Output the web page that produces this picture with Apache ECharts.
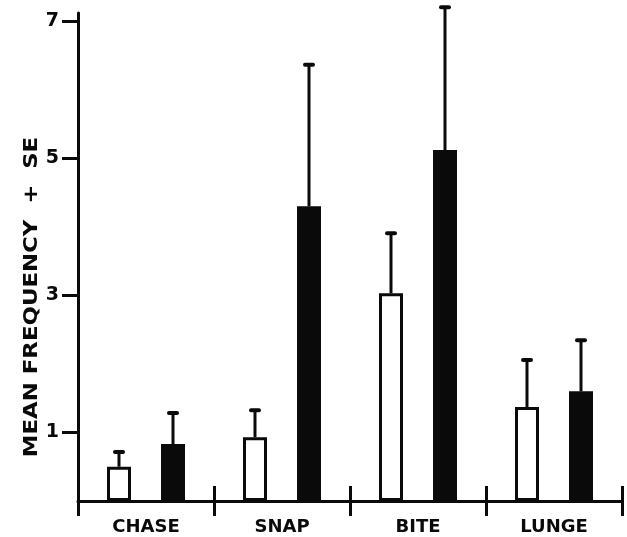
<!DOCTYPE html>
<html>
<head>
<meta charset="utf-8">
<script src="https://cdn.jsdelivr.net/npm/echarts@6/dist/echarts.min.js"></script>
<style>
html,body{margin:0;padding:0;background:#fff;}
#chart{width:627px;height:537px;}
</style>
</head>
<body>
<div id="chart"></div>
<script>
// ---- data ----
const categories = ['CHASE', 'SNAP', 'BITE', 'LUNGE'];
const openMeans  = [0.50, 0.93, 3.03, 1.37];   // open (white) bars
const openSE     = [0.23, 0.41, 0.89, 0.70];
const filledMeans = [0.83, 4.30, 5.12, 1.60];  // filled (black) bars
const filledSE    = [0.47, 2.08, 2.10, 0.76];
const yTickValues = [1, 3, 5, 7];
const yAxisTitle = 'MEAN FREQUENCY  +  SE';

// ---- styling ----
const INK = '#0a0a0a';
const FONT = '"DejaVu Sans"';
const BAR_W = 24;
const HALF_OFFSET = 27; // half distance between paired bar centres (px)

function errorData(means, se) {
  return means.map((m, i) => [i, m, se[i]]);
}

function makeErrorRenderer(offset) {
  return function (params, api) {
    const ci = api.value(0);
    const m = api.value(1);
    const s = api.value(2);
    const p0 = api.coord([ci, m]);
    const p1 = api.coord([ci, m + s]);
    const x = p0[0] + offset;
    return {
      type: 'group',
      children: [
        { type: 'line', shape: { x1: x, y1: p0[1], x2: x, y2: p1[1] + 1 },
          style: { stroke: INK, lineWidth: 3 } },
        { type: 'rect', shape: { x: x - 6, y: p1[1] - 1, width: 12, height: 4, r: 2 },
          style: { fill: INK } }
      ]
    };
  };
}

const chart = echarts.init(document.getElementById('chart'), null, { renderer: 'canvas' });

chart.setOption({
  backgroundColor: '#ffffff',
  animation: false,
  grid: { left: 78, right: 5, top: 13, bottom: 36, containLabel: false, outerBoundsMode: 'none' },
  xAxis: [
    {
      type: 'category',
      data: categories,
      position: 'bottom',
      boundaryGap: true,
      axisLine: { show: true, onZero: false, lineStyle: { color: INK, width: 3 } },
      axisTick: { show: true, alignWithLabel: false, length: 15, lineStyle: { color: INK, width: 3 } },
      axisLabel: { show: true, margin: 17, color: INK, fontFamily: FONT, fontWeight: 'bold', fontSize: 18 },
      splitLine: { show: false }
    },
    {
      type: 'category',
      data: categories,
      position: 'bottom',
      boundaryGap: true,
      axisLine: { show: false, onZero: false },
      axisTick: { show: true, inside: true, alignWithLabel: false, length: 15, lineStyle: { color: INK, width: 3 } },
      axisLabel: { show: false },
      splitLine: { show: false }
    }
  ],
  yAxis: {
    type: 'value',
    min: 0,
    max: 7.12,
    axisLine: { show: true, lineStyle: { color: INK, width: 3 } },
    axisTick: { show: true, length: 16, customValues: yTickValues, lineStyle: { color: INK, width: 3 } },
    axisLabel: { show: true, margin: 19, customValues: yTickValues, color: INK, fontFamily: FONT, fontWeight: 'bold', fontSize: 19 },
    splitLine: { show: false }
  },
  graphic: [
    {
      type: 'text',
      x: 32, y: 297,
      rotation: Math.PI / 2,
      scaleX: 1.2,
      style: {
        text: yAxisTitle,
        fill: INK,
        font: 'bold 19px ' + FONT,
        textAlign: 'center',
        textVerticalAlign: 'middle'
      }
    }
  ],
  series: [
    {
      type: 'bar',
      name: 'open',
      data: openMeans,
      barWidth: BAR_W,
      barGap: '125%',
      itemStyle: { color: '#ffffff', borderColor: INK, borderWidth: 3 },
      z: 2
    },
    {
      type: 'bar',
      name: 'filled',
      data: filledMeans,
      barWidth: BAR_W,
      barGap: '125%',
      itemStyle: { color: INK, borderColor: INK, borderWidth: 3 },
      z: 2
    },
    {
      type: 'custom',
      name: 'open SE',
      data: errorData(openMeans, openSE),
      renderItem: makeErrorRenderer(-HALF_OFFSET),
      z: 3
    },
    {
      type: 'custom',
      name: 'filled SE',
      data: errorData(filledMeans, filledSE),
      renderItem: makeErrorRenderer(HALF_OFFSET),
      z: 3
    }
  ]
});
</script>
</body>
</html>
